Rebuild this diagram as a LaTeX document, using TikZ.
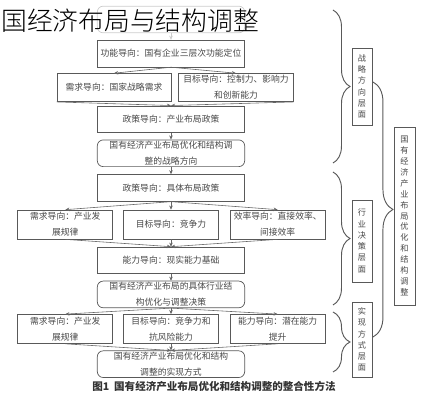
\documentclass[tikz,border=0pt]{standalone}
\usepackage{fontspec}
\setmainfont{Noto Sans CJK SC}
\newfontfamily\ttlfont{Noto Sans CJK SC Light}
\usetikzlibrary{arrows.meta, positioning, calc, decorations.pathreplacing}

\begin{document}
\begin{tikzpicture}[
      x=0.03cm, y=-0.03cm,
      node distance = 0.2cm and 0.3cm,
      every node/.style = {font=\fontsize{7.5}{13.5}\selectfont, text=black!72},
      blk/.style = {
        rectangle, minimum width=4.42cm, minimum height=0.8cm,
        align=center, inner sep=1pt,
        draw=black!65, line width=0.6pt
      },
      blkR/.style = {blk, rounded corners=5pt},
      blkS/.style = {blk, minimum width=2.85cm, minimum height=0.87cm},
      blkV/.style = {
        rectangle, align=center, inner sep=1pt,
        minimum width=0.6cm, draw=black!65, line width=0.6pt,
        font=\fontsize{7}{9.6}\selectfont
      },
      arr/.style = {-{Stealth[length=3.5pt, width=3pt]},
                    line width=0.5pt, black!60},
      brc/.style = {decorate, decoration={brace, amplitude=#1},
                    line width=0.8pt, black!65},
    ]
    \useasboundingbox (0,0) rectangle (435,400);
    % centre column
    \node[blkR, draw=black!20] (top) at (171,19.5) {};
    \node[blk, below=0.2cm of top] (func)
      {功能导向：国有企业三层次功能定位};
    \node[blk, minimum width=3.42cm, minimum height=0.84cm, anchor=north] (need)
      at ($(func.south)+(-1.71cm,-0.18cm)$) {需求导向：国家战略需求};
    \node[blk, minimum width=3.45cm, minimum height=0.84cm, anchor=north] (goal)
      at ($(func.south)+(1.95cm,-0.18cm)$) {目标导向：控制力、影响力\\和创新能力};
    \node[blk, anchor=north] (policy)
      at ($(func.south)+(0,-1.15cm)$) {政策导向：产业布局政策};
    \node[blkR, below=0.2cm of policy] (strat)
      {国有经济产业布局优化和结构调\\整的战略方向};
    \node[blk, below=0.22cm of strat] (policyB)
      {政策导向：具体布局政策};
    % second level
    \node[blkS, below=0.24cm of policyB] (goalB) {目标导向：竞争力};
    \node[blkS, left=of goalB] (needB) {需求导向：产业发\\展规律};
    \node[blkS, right=0.33cm of goalB] (eff) {效率导向：直接效率、\\间接效率};
    \node[blk, below=0.22cm of goalB] (abil) {能力导向：现实能力基础};
    \node[blkR, below=0.2cm of abil] (dec)
      {国有经济产业布局的具体行业结\\构优化与调整决策};
    % third level
    \node[blkS, below=0.18cm of dec] (goalC) {目标导向：竞争力和\\抗风险能力};
    \node[blkS, left=of goalC] (needC) {需求导向：产业发\\展规律};
    \node[blkS, right=0.33cm of goalC] (abilC) {能力导向：潜在能力\\提升};
    \node[blkR, below=0.2cm of goalC] (impl)
      {国有经济产业布局优化和结构\\调整的实现方式};
    % right side
    \node[blkV, minimum height=2.31cm] (lvA) at (362,86.5) {战\\略\\方\\向\\层\\面};
    \node[blkV, minimum height=2.46cm] (lvB) at (362,241) {行\\业\\决\\策\\层\\面};
    \node[blkV, minimum height=2.25cm] (lvC) at (362,339.5) {实\\现\\方\\式\\层\\面};
    \node[blkV, minimum width=0.63cm, minimum height=5.34cm,
      font=\fontsize{7}{9.3}\selectfont] (whole) at (404.5,216)
      {国\\有\\经\\济\\产\\业\\布\\局\\优\\化\\和\\结\\构\\调\\整};
    \coordinate (bAt) at (333,10);
    \coordinate (bAb) at (333,163);
    \coordinate (bBt) at (333,172);
    \coordinate (bBb) at (333,305);
    \coordinate (bCt) at (333,312);
    \coordinate (bCb) at (333,372);
    \coordinate (bDt) at (373,82);
    \coordinate (bDb) at (373,337);
    \draw[brc=14.5pt] (bAt) -- (bAb);
    \draw[brc=14.5pt] (bBt) -- (bBb);
    \draw[brc=14.5pt] (bCt) -- (bCb);
    \draw[brc=17pt] (bDt) -- (bDb);
    % title and caption
    \node[anchor=west, inner sep=0pt, text=black,
      font=\fontsize{22}{24}\ttlfont] (ttl) at (1,21) {国经济布局与结构调整};
    \node[font=\fontsize{9}{11}\selectfont\bfseries, text=black!80] (cap)
      at (214,386) {图1\ \ 国有经济产业布局优化和结构调整的整合性方法};
    % arrows
    \draw[arr, black!20] (top) -- (func);
    \draw[arr] (func.south) -- (need.north);
    \draw[arr] (func.south) -- (goal.north);
    \draw[arr] (need.south west) -- (policy.north);
    \draw[arr] (goal.south east) -- (policy.north);
    \draw[arr] (policy) -- (strat);
    \draw[arr] (strat) -- (policyB);
    \draw[arr] (policyB.south) -- (needB.north);
    \draw[arr] (policyB.south) -- (goalB.north);
    \draw[arr] (policyB.south) -- (eff.north);
    \draw[arr] (needB.south) -- (abil.north);
    \draw[arr] (goalB.south) -- (abil.north);
    \draw[arr] (eff.south) -- (abil.north);
    \draw[arr] (abil) -- (dec);
    \draw[arr] (dec.south) -- (needC.north);
    \draw[arr] (dec.south) -- (goalC.north);
    \draw[arr] (dec.south) -- (abilC.north);
    \draw[arr] (needC.south) -- (impl.north);
    \draw[arr] (goalC.south) -- (impl.north);
    \draw[arr] (abilC.south) -- (impl.north);
\end{tikzpicture}
\end{document}
